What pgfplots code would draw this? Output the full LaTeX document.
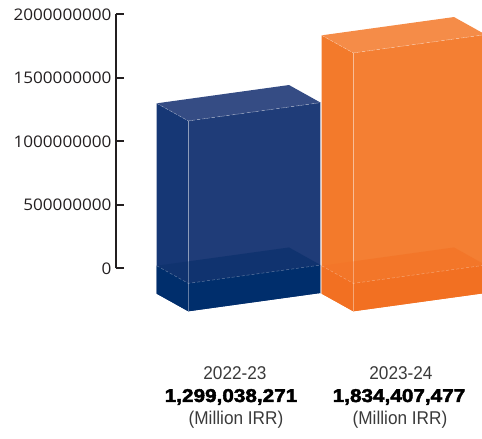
\documentclass[border=0pt]{standalone}
\usepackage{pgfplots}
\pgfplotsset{compat=1.18}
\usepackage{fontspec}
\setmainfont{Liberation Sans}
\newfontfamily\tickfont[FakeStretch=1.07]{Open Sans}
\newfontfamily\blackfont[FakeBold=2.5,FakeStretch=1.12]{Liberation Sans}
\newfontfamily\lightfont[FakeStretch=0.93]{Liberation Sans}

\definecolor{blueFront}{HTML}{1F3C78}
\definecolor{blueLeft}{HTML}{163775}
\definecolor{blueTop}{HTML}{354C84}
\definecolor{blueSlabTop}{HTML}{10336F}
\definecolor{blueSlab}{HTML}{002E6C}
\definecolor{orFront}{HTML}{F47F33}
\definecolor{orLeft}{HTML}{F37A2B}
\definecolor{orTop}{HTML}{F58C48}
\definecolor{orSlabTop}{HTML}{F37629}
\definecolor{orSlab}{HTML}{F27022}
\definecolor{tickcol}{HTML}{231F20}
\definecolor{lighttext}{HTML}{3A3A3A}

\begin{document}
\begin{tikzpicture}
\begin{axis}[
  scale only axis, width=366pt, height=254pt,
  xmin=116, xmax=482, ymin=0, ymax=2e9,
  clip=false,
  axis x line=none,
  axis y line*=left,
  axis line style={line width=1.6pt, tickcol},
  scaled y ticks=false,
  ytick={0,500000000,1000000000,1500000000,2000000000},
  yticklabels={0,500000000,1000000000,1500000000,2000000000},
  yticklabel style={font=\tickfont\fontsize{16}{18}\selectfont, text=tickcol, xshift=-1pt},
  tick align=inside,
  major tick length=8pt,
  tick style={line width=1.6pt, tickcol},
  no markers,
]
% ---- blue bar (2022-23) ----
\addplot[fill=blueLeft, draw=none] coordinates {(156.7,1.299038271e9) (188.3,1.1604e9) (188.3,-0.3386e9) (156.7,-0.2e9)};
\addplot[fill=blueFront, draw=none] coordinates {(188.3,1.1604e9) (320.6,1.3045e9) (320.6,-0.1945e9) (188.3,-0.3386e9)};
\addplot[fill=blueTop, draw=none] coordinates {(156.7,1.299038271e9) (289.0,1.4431e9) (320.6,1.3045e9) (188.3,1.1604e9)};
\addplot[fill=blueSlabTop, draw=none] coordinates {(156.7,0.02e9) (289.0,0.1641e9) (320.6,0.0255e9) (188.3,-0.1186e9)};
\addplot[fill=blueSlab, draw=none] coordinates {(188.3,-0.1186e9) (320.6,0.0255e9) (320.6,-0.1945e9) (188.3,-0.3386e9)};
\addplot[fill=blueSlab, draw=none] coordinates {(156.7,0.02e9) (188.3,-0.1186e9) (188.3,-0.3386e9) (156.7,-0.2e9)};
\addplot[draw=white, draw opacity=0.35, line width=0.5pt] coordinates {(188.3,1.1604e9) (188.3,-0.3386e9)};
\addplot[draw=white, draw opacity=0.45, line width=0.5pt] coordinates {(320.6,1.3045e9) (320.6,-0.1945e9)};
\addplot[draw=white, draw opacity=0.4, line width=0.5pt, dash pattern=on 3pt off 2pt] coordinates {(156.7,1.299038271e9) (188.3,1.1604e9) (320.6,1.3045e9)};
\addplot[draw=white, draw opacity=0.35, line width=0.5pt, dash pattern=on 3pt off 2pt] coordinates {(156.7,0.02e9) (188.3,-0.1186e9) (320.6,0.0255e9)};
% ---- orange bar (2023-24) ----
\addplot[fill=orLeft, draw=none] coordinates {(321.7,1.834407477e9) (353.3,1.6958e9) (353.3,-0.3386e9) (321.7,-0.2e9)};
\addplot[fill=orFront, draw=none] coordinates {(353.3,1.6958e9) (485.6,1.8399e9) (485.6,-0.1945e9) (353.3,-0.3386e9)};
\addplot[fill=orTop, draw=none] coordinates {(321.7,1.834407477e9) (454.0,1.9785e9) (485.6,1.8399e9) (353.3,1.6958e9)};
\addplot[fill=orSlabTop, draw=none] coordinates {(321.7,0.02e9) (454.0,0.1641e9) (485.6,0.0255e9) (353.3,-0.1186e9)};
\addplot[fill=orSlab, draw=none] coordinates {(353.3,-0.1186e9) (485.6,0.0255e9) (485.6,-0.1945e9) (353.3,-0.3386e9)};
\addplot[fill=orSlab, draw=none] coordinates {(321.7,0.02e9) (353.3,-0.1186e9) (353.3,-0.3386e9) (321.7,-0.2e9)};
\addplot[draw=white, draw opacity=0.35, line width=0.5pt] coordinates {(353.3,1.6958e9) (353.3,-0.3386e9)};
\addplot[draw=white, draw opacity=0.4, line width=0.5pt, dash pattern=on 3pt off 2pt] coordinates {(321.7,1.834407477e9) (353.3,1.6958e9) (485.6,1.8399e9)};
\addplot[draw=white, draw opacity=0.35, line width=0.5pt, dash pattern=on 3pt off 2pt] coordinates {(321.7,0.02e9) (353.3,-0.1186e9) (485.6,0.0255e9)};
% ---- labels ----
\node[font=\lightfont\fontsize{18.5}{20}\selectfont, text=lighttext] at (axis cs:235,-0.824e9) {2022-23};
\node[font=\blackfont\bfseries\fontsize{18.5}{20}\selectfont, text=black] at (axis cs:231,-1.013e9) {1,299,038,271};
\node[font=\lightfont\fontsize{18.5}{20}\selectfont, text=lighttext] at (axis cs:236,-1.194e9) {(Million IRR)};
\node[font=\lightfont\fontsize{18.5}{20}\selectfont, text=lighttext] at (axis cs:401,-0.824e9) {2023-24};
\node[font=\blackfont\bfseries\fontsize{18.5}{20}\selectfont, text=black] at (axis cs:399,-1.013e9) {1,834,407,477};
\node[font=\lightfont\fontsize{18.5}{20}\selectfont, text=lighttext] at (axis cs:400,-1.194e9) {(Million IRR)};
\coordinate (bbsw) at (axis cs:0,-1.344e9);
\coordinate (bbne) at (axis cs:482,2.1126e9);
\end{axis}
\pgfresetboundingbox
\path (bbsw) rectangle (bbne);
\end{tikzpicture}
\end{document}
